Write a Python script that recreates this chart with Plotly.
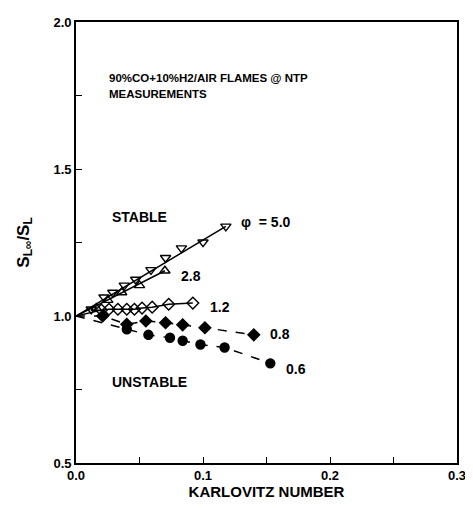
import plotly.graph_objects as go

# Data (Karlovitz number vs S_Linf/S_L)
phi50_x = [0.012, 0.022, 0.029, 0.038, 0.047, 0.059, 0.0705, 0.083, 0.100, 0.118]
phi50_y = [1.023, 1.064, 1.080, 1.104, 1.124, 1.157, 1.198, 1.231, 1.251, 1.305]
phi28_x = [0.016, 0.025, 0.036, 0.050, 0.070]
phi28_y = [1.027, 1.054, 1.080, 1.104, 1.154]
phi12_x = [0.020, 0.026, 0.033, 0.040, 0.046, 0.052, 0.060, 0.073, 0.092]
phi12_y = [1.020, 1.023, 1.023, 1.023, 1.023, 1.027, 1.030, 1.040, 1.044]
phi08_x = [0.021, 0.040, 0.055, 0.0705, 0.084, 0.1015, 0.140]
phi08_y = [1.000, 0.972, 0.983, 0.977, 0.970, 0.960, 0.936]
phi06_x = [0.040, 0.057, 0.074, 0.084, 0.098, 0.117, 0.153]
phi06_y = [0.955, 0.936, 0.926, 0.916, 0.903, 0.893, 0.839]

origin_x = 0.0
origin_y = 1.0

# (x, y, marker symbol, line dash, straight fit line?)
series = [
    (phi50_x, phi50_y, "triangle-down-open", "solid", True),
    (phi28_x, phi28_y, "triangle-up-open", "solid", True),
    (phi12_x, phi12_y, "diamond-open", "solid", False),
    (phi08_x, phi08_y, "diamond", "dash", False),
    (phi06_x, phi06_y, "circle", "dash", False),
]

fig = go.Figure()
for xs, ys, sym, dash, straight in series:
    if straight:
        lx, ly = [origin_x, xs[-1]], [origin_y, ys[-1]]
    else:
        lx, ly = [origin_x] + xs, [origin_y] + ys
    fig.add_trace(go.Scatter(
        x=lx, y=ly, mode="lines",
        line=dict(color="black", width=1.5, dash=dash), showlegend=False,
        hoverinfo="skip"))
    fig.add_trace(go.Scatter(
        x=xs, y=ys, mode="markers",
        marker=dict(symbol=sym, size=9, color="black",
                    line=dict(color="black", width=1.4)),
        showlegend=False))

font = "Liberation Sans, Arial, sans-serif"
ann = [
    (0.0245, 1.81, "<b>90%CO+10%H2/AIR FLAMES @ NTP</b>", 11.5),
    (0.0245, 1.755, "<b>MEASUREMENTS</b>", 11.5),
    (0.027, 1.338, "<b>STABLE</b>", 14),
    (0.027, 0.776, "<b>UNSTABLE</b>", 14),
    (0.128, 1.321, "<b>φ  = 5.0</b>", 14),
    (0.081, 1.137, "<b>2.8</b>", 14),
    (0.104, 1.03, "<b>1.2</b>", 14),
    (0.151, 0.94, "<b>0.8</b>", 14),
    (0.164, 0.82, "<b>0.6</b>", 14),
]
for x, y, t, fs in ann:
    fig.add_annotation(x=x, y=y, text=t, showarrow=False, xanchor="left",
                       yanchor="middle", font=dict(family=font, size=fs, color="black"))

axis_common = dict(showline=True, linecolor="black", linewidth=1.6, mirror=True,
                   showgrid=False, zeroline=False, ticks="inside", ticklen=6,
                   tickcolor="black", tickwidth=1.3,
                   tickfont=dict(family=font, size=13, color="black"))

fig.update_xaxes(range=[0, 0.3], tickvals=[0, 0.1, 0.2, 0.3],
                 ticktext=["<b>0.0</b>", "<b>0.1</b>", "<b>0.2</b>", "<b>0.3</b>"],
                 ticklabelstandoff=0,
                 minor=dict(dtick=0.05, ticks="inside", ticklen=6, tickcolor="black"),
                 title=dict(text="<b>KARLOVITZ NUMBER</b>", standoff=2,
                            font=dict(family=font, size=15, color="black")),
                 **axis_common)
fig.update_yaxes(range=[0.5, 2.0], tickvals=[0.5, 1.0, 1.5, 2.0],
                 ticktext=["<b>0.5</b>", "<b>1.0</b>", "<b>1.5</b>", "<b>2.0</b>"],
                 minor=dict(dtick=0.25, ticks="inside", ticklen=6, tickcolor="black"),
                 title=dict(text="<b>S<sub>L∞</sub>/S<sub>L</sub></b>", standoff=20,
                            font=dict(family=font, size=17, color="black")),
                 **axis_common)

fig.update_layout(width=465, height=500, plot_bgcolor="white", paper_bgcolor="white",
                  margin=dict(l=68, r=11, t=7, b=45), font=dict(family=font))

fig.write_html("out.html")
